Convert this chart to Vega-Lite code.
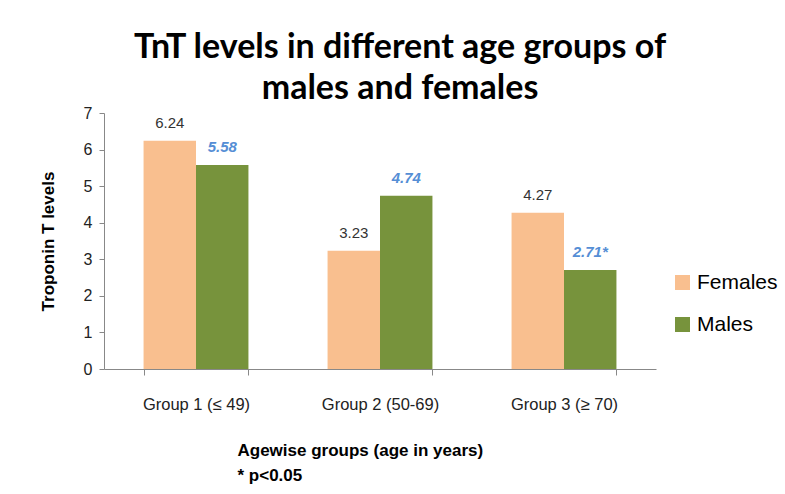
{
  "$schema": "https://vega.github.io/schema/vega-lite/v6.json",
  "autosize": "none",
  "width": 552,
  "height": 256,
  "padding": {"left": 104, "top": 113, "right": 129, "bottom": 125},
  "background": "white",
  "title": {
    "text": ["TnT levels in different age groups of", "males and females"],
    "font": "Lato",
    "fontSize": 34,
    "fontWeight": "bold",
    "color": "#000000",
    "anchor": "middle",
    "dx": 20,
    "lineHeight": 41,
    "offset": -1
  },
  "data": {
    "values": [
      {"group": "Group 1 (≤ 49)", "sex": "Females", "value": 6.24, "label": "6.24"},
      {"group": "Group 1 (≤ 49)", "sex": "Males", "value": 5.58, "label": "5.58"},
      {"group": "Group 2 (50-69)", "sex": "Females", "value": 3.23, "label": "3.23"},
      {"group": "Group 2 (50-69)", "sex": "Males", "value": 4.74, "label": "4.74"},
      {"group": "Group 3 (≥ 70)", "sex": "Females", "value": 4.27, "label": "4.27"},
      {"group": "Group 3 (≥ 70)", "sex": "Males", "value": 2.71, "label": "2.71*"}
    ]
  },
  "encoding": {
    "x": {
      "field": "group",
      "type": "nominal",
      "sort": null,
      "scale": {"paddingInner": 0.43, "paddingOuter": 0.215},
      "axis": {
        "title": ["Agewise groups (age in years)", "* p<0.05"],
        "titleFont": "Liberation Sans",
        "titleFontSize": 17,
        "titleFontWeight": "bold",
        "titleColor": "#000000",
        "titleAlign": "left",
        "titleAnchor": "start",
        "titleX": 133,
        "titlePadding": 30,
        "titleLineHeight": 25,
        "labelAngle": 0,
        "labelFont": "Liberation Sans",
        "labelFontSize": 16.5,
        "labelColor": "#222222",
        "labelPadding": 21,
        "tickBand": "extent",
        "tickSize": 6,
        "tickColor": "#888888",
        "domainColor": "#888888"
      }
    },
    "xOffset": {"field": "sex", "type": "nominal", "sort": ["Females", "Males"], "scale": {"paddingInner": 0}},
    "y": {
      "field": "value",
      "type": "quantitative",
      "scale": {"domain": [0, 7]},
      "axis": {
        "title": "Troponin T levels",
        "titleFont": "Liberation Sans",
        "titleFontSize": 17,
        "titleFontWeight": "bold",
        "titleColor": "#000000",
        "titlePadding": 26,
        "values": [0, 1, 2, 3, 4, 5, 6, 7],
        "grid": false,
        "labelFont": "Liberation Sans",
        "labelFontSize": 16,
        "labelColor": "#222222",
        "labelPadding": 7,
        "tickSize": 5,
        "tickColor": "#888888",
        "domainColor": "#888888"
      }
    }
  },
  "layer": [
    {
      "mark": {"type": "bar"},
      "encoding": {
        "color": {
          "field": "sex",
          "type": "nominal",
          "scale": {"domain": ["Females", "Males"], "range": ["#F9BF8F", "#77933C"]},
          "legend": {
            "title": null,
            "orient": "none",
            "legendX": 568,
            "legendY": 159,
            "symbolType": "square",
            "symbolSize": 225,
            "symbolStrokeWidth": 0,
            "labelFont": "Liberation Sans",
            "labelFontSize": 21,
            "labelColor": "#000000",
            "labelOffset": 4,
            "rowPadding": 20
          }
        }
      }
    },
    {
      "transform": [{"filter": "datum.sex === 'Females'"}],
      "mark": {"type": "text", "baseline": "bottom", "dy": -10, "font": "Liberation Sans", "fontSize": 15, "color": "#333333"},
      "encoding": {"text": {"field": "label"}}
    },
    {
      "transform": [{"filter": "datum.sex === 'Males'"}],
      "mark": {"type": "text", "baseline": "bottom", "dy": -10, "font": "Liberation Sans", "fontSize": 15, "fontStyle": "italic", "fontWeight": "bold", "color": "#558ED5"},
      "encoding": {"text": {"field": "label"}}
    }
  ],
  "config": {"view": {"stroke": null}}
}
